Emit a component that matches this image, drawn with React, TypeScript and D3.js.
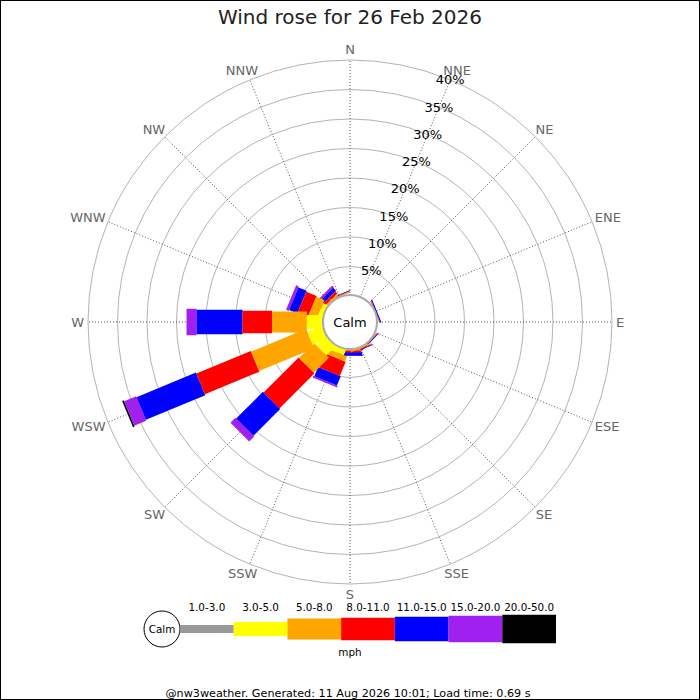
import * as React from 'react';
import * as d3 from 'd3';

// compass sectors, clockwise from north
const directions = ['N', 'NNE', 'NE', 'ENE', 'E', 'ESE', 'SE', 'SSE', 'S', 'SSW', 'SW', 'WSW', 'W', 'WNW', 'NW', 'NNW'];
const ringTicks = [5, 10, 15, 20, 25, 30, 35, 40];
const bandLabels = ['1.0-3.0', '3.0-5.0', '5.0-8.0', '8.0-11.0', '11.0-15.0', '15.0-20.0', '20.0-50.0'];

// % of time per direction for each speed band (mph)
const band1to3 = [0, 0, 0, 0, 0, 0, 0, 0, 0, 0.1, 0.2, 0.3, 0.3, 0.1, 0.05, 0];
const band3to5 = [0, 0, 0, 0.15, 0, 0, 0.1, 0.2, 0.2, 1.1, 2.2, 2.6, 2.6, 0.9, 0.2, 0.2];
const band5to8 = [0, 0, 0, 0.1, 0, 0, 0.1, 0.2, 0.2, 0.9, 3.6, 10.1, 5.9, 1.5, 0.25, 0.2];
const band8to11 = [0, 0, 0, 0.05, 0, 0, 0.1, 0.15, 0.3, 2.6, 8.4, 10.0, 5.0, 1.9, 0.5, 0.1];
const band11to15 = [0, 0, 0, 0.2, 0, 0, 0.15, 0.1, 0.6, 1.7, 6.4, 10.9, 7.8, 1.5, 0.7, 0.1];
const band15to20 = [0, 0, 0, 0, 0, 0, 0, 0, 0.05, 0.3, 1.2, 2.2, 1.7, 0.5, 0.4, 0];
const band20to50 = [0, 0, 0, 0, 0, 0, 0, 0, 0, 0, 0, 0.3, 0, 0, 0, 0];

const bands = [band1to3, band3to5, band5to8, band8to11, band11to15, band15to20, band20to50];
const bandColors = ['#999999', '#ffff00', '#ffa500', '#ff0000', '#0000ff', '#a020f0', '#000000'];
const bandWidths = [8, 14, 21, 22.5, 24.5, 26.5, 28.5];

const W = 700;
const H = 700;
const cx = 350;
const cy = 322;
const font = '"DejaVu Sans", sans-serif';

// rough DejaVu glyph widths for direction labels
const glyphW: Record<string, number> = { N: 0.748, E: 0.632, S: 0.635, W: 0.989 };

const App: React.FC = () => {
  const r = d3.scaleLinear().domain([0, 40]).range([26, 262]);
  const angle = d3.scaleLinear().domain([0, directions.length]).range([0, 360]);

  // cumulative stacks per direction
  const segs: { dir: number; band: number; r0: number; r1: number }[] = [];
  directions.forEach((_, i) => {
    let acc = 0;
    bands.forEach((b, j) => {
      const v = b[i];
      if (v > 0) segs.push({ dir: i, band: j, r0: r(acc), r1: r(acc + v) });
      acc += v;
    });
  });
  // outer bands first so slower bands sit on top near the centre
  segs.sort((a, b) => b.band - a.band);

  const legendX = d3.scaleLinear().domain([0, bandLabels.length]).range([180, 556]);
  const legendY = 629;

  return (
    <svg width={W} height={H} style={{ position: 'absolute', left: 0, top: 0, background: '#fff' }} fontFamily={font}>
      <rect x={0.5} y={0.5} width={W - 1} height={H - 1} fill="#fff" stroke="#000" />
      <text x={cx} y={24} textAnchor="middle" fontSize={20} fill="#222">Wind rose for 26 Feb 2026</text>

      {/* rings */}
      <g fill="none" stroke="#b4b4b4">
        {ringTicks.map((t) => (
          <circle key={t} cx={cx} cy={cy} r={r(t)} />
        ))}
      </g>
      {/* spokes */}
      <g stroke="#555" strokeDasharray="1,2">
        {directions.map((d, i) => {
          const a = (angle(i) * Math.PI) / 180;
          return (
            <line key={d} x1={cx + r(0) * Math.sin(a)} y1={cy - r(0) * Math.cos(a)}
              x2={cx + r(40) * Math.sin(a)} y2={cy - r(40) * Math.cos(a)} />
          );
        })}
      </g>

      {/* bars */}
      <g>
        {segs.map((s, k) => {
          const w = bandWidths[s.band];
          return (
            <rect key={k} x={-w / 2} y={-s.r1} width={w} height={Math.max(s.r1 - s.r0, 0.8)}
              fill={bandColors[s.band]} transform={`translate(${cx},${cy}) rotate(${angle(s.dir)})`} />
          );
        })}
      </g>

      <circle cx={cx} cy={cy} r={27} fill="#fff" stroke="#aaa" strokeWidth={2} />
      <text x={cx} y={cy} textAnchor="middle" dominantBaseline="central" fontSize={13} fill="#000">Calm</text>

      {/* direction labels */}
      <g fontSize={13} fill="#666">
        {directions.map((d, i) => {
          const a = (angle(i) * Math.PI) / 180;
          const tw = d.split('').reduce((acc, c) => acc + (glyphW[c] || 0.7), 0) * 13;
          const dx = Math.sin(a) * (266 + tw / 2);
          const dy = -Math.cos(a) * (266 + 6.5);
          return (
            <text key={d} x={cx + dx} y={cy + dy} textAnchor="middle" dominantBaseline="central">{d}</text>
          );
        })}
      </g>

      {/* percent labels along NNE */}
      <g fontSize={13} fill="#000">
        {ringTicks.map((t) => {
          const a = (angle(1) * Math.PI) / 180;
          return (
            <text key={t} x={cx + r(t) * Math.sin(a)} y={cy - r(t) * Math.cos(a)} textAnchor="middle" dominantBaseline="central">{t}%</text>
          );
        })}
      </g>

      {/* legend */}
      <circle cx={162} cy={legendY} r={18} fill="#fff" stroke="#000" />
      <text x={162} y={legendY} textAnchor="middle" dominantBaseline="central" fontSize={10.4}>Calm</text>
      {bandLabels.map((lab, j) => {
        const x0 = legendX(j);
        const x1 = legendX(j + 1);
        const h = bandWidths[j];
        return (
          <g key={lab}>
            <rect x={x0} y={legendY - h / 2} width={x1 - x0} height={h} fill={bandColors[j]} />
            <text x={(x0 + x1) / 2} y={611} textAnchor="middle" fontSize={10.4}>{lab}</text>
          </g>
        );
      })}
      <text x={cx} y={656} textAnchor="middle" fontSize={10.4}>mph</text>

      <text x={348} y={697} textAnchor="middle" fontSize={11.2}>@nw3weather. Generated: 11 Aug 2026 10:01; Load time: 0.69 s</text>
    </svg>
  );
};

export default App;
